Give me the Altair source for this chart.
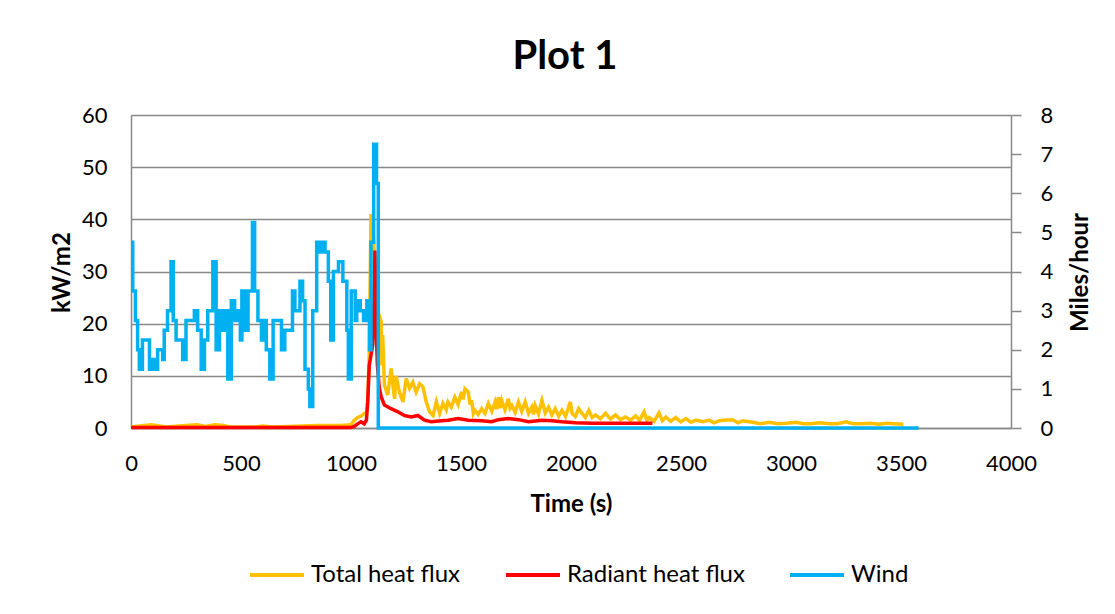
import altair as alt
import pandas as pd

# ---- data ----
series_names = ["Total heat flux", "Radiant heat flux", "Wind"]
series_colors = ["#FFC000", "#FF0000", "#00B0F0"]

total_t = [0, 60, 90, 130, 160, 250, 300, 340, 380, 420, 450, 560, 600, 640, 720, 780, 850, 950,
           1000, 1015, 1030, 1046, 1061, 1070, 1076, 1083, 1091, 1100, 1110, 1125, 1137, 1141, 1144,
           1152, 1167, 1182, 1198, 1205, 1220, 1236, 1251, 1266, 1281, 1296, 1312, 1327, 1342, 1357,
           1373, 1388, 1403, 1418, 1433, 1441, 1456, 1472, 1487, 1502, 1510, 1518, 1533, 1541, 1548,
           1556, 1563, 1578, 1594, 1609, 1624, 1640, 1655, 1662, 1670, 1678, 1685, 1700, 1715, 1723,
           1731, 1746, 1761, 1776, 1792, 1807, 1822, 1830, 1837, 1852, 1868, 1883, 1898, 1913, 1928,
           1944, 1959, 1975, 1997, 2005, 2020, 2035, 2050, 2065, 2081, 2096, 2111, 2134, 2157, 2180,
           2202, 2225, 2248, 2271, 2294, 2312, 2332, 2345, 2355, 2378, 2400, 2415, 2431, 2453, 2476,
           2499, 2522, 2545, 2568, 2600, 2629, 2650, 2674, 2690, 2735, 2760, 2781, 2826, 2860, 2900,
           2940, 2978, 3024, 3055, 3090, 3130, 3176, 3210, 3252, 3283, 3320, 3359, 3400, 3435, 3470,
           3511]
total_kw = [0.2, 0.5, 0.6, 0.4, 0.2, 0.5, 0.6, 0.3, 0.6, 0.5, 0.2, 0.2, 0.4, 0.2, 0.3, 0.4, 0.5, 0.5,
            0.6, 1.5, 2.0, 2.3, 2.8, 2.8, 5.0, 14.6, 41.0, 38.0, 30.0, 22.0, 20.4, 12.0, 17.8,
            8.2, 6.3, 11.4, 5.6, 10.0, 6.9, 5.0, 9.5, 7.6, 8.8, 6.9, 8.5, 7.9, 5.0, 3.1,
            2.4, 5.0, 2.8, 4.7, 3.5, 5.0, 4.0, 5.9, 4.5, 6.9, 5.5, 7.5, 6.9, 4.5, 5.3,
            2.8, 3.4, 2.6, 3.7, 2.8, 4.7, 3.2, 5.0, 3.6, 5.9, 3.8, 5.3, 3.5, 5.6, 3.8,
            4.3, 3.0, 5.0, 3.2, 5.0, 2.8, 4.0, 2.6, 4.3, 2.7, 5.3, 2.9, 4.0, 2.5, 3.7,
            2.3, 3.4, 2.2, 5.0, 2.8, 2.2, 3.7, 2.8, 2.0, 3.4, 2.0, 2.5, 1.8, 2.8, 1.7,
            2.5, 1.6, 2.1, 1.5, 2.3, 1.5, 3.1, 1.5, 2.0, 1.3, 2.9, 1.4, 2.1, 1.3, 2.0,
            1.2, 1.8, 1.1, 1.5, 1.2, 1.5, 1.0, 1.4, 1.5, 1.6, 1.0, 1.4, 1.1, 0.8, 1.1,
            0.8, 0.9, 1.1, 0.8, 0.8, 1.0, 0.8, 0.8, 1.2, 0.8, 0.8, 0.9, 0.7, 0.9, 0.8,
            0.7]

radiant_t = [0, 1000, 1015, 1030, 1045, 1060, 1070, 1076, 1083, 1091, 1099, 1105, 1109, 1114, 1120,
             1129, 1137, 1152, 1182, 1213, 1243, 1274, 1304, 1334, 1365, 1411, 1441, 1487, 1533,
             1594, 1639, 1670, 1715, 1761, 1807, 1868, 1913, 1959, 2020, 2096, 2172, 2248, 2324, 2370]
radiant_kw = [0.1, 0.1, 0.3, 0.8, 1.2, 0.8, 1.5, 5.0, 12.0, 14.0, 16.0, 25.0, 34.0, 20.0, 12.0,
              7.6, 6.0, 4.4, 3.7, 3.1, 2.4, 2.1, 2.4, 1.5, 1.2, 1.4, 1.5, 1.8, 1.5,
              1.4, 1.2, 1.6, 1.8, 1.6, 1.2, 1.5, 1.4, 1.2, 1.0, 0.9, 0.9, 0.9, 0.9, 0.9]

wind_t = [0, 8, 20, 30, 38, 52, 76, 84, 98, 112, 121, 144, 151, 166, 182, 192, 205, 235, 250, 273,
          288, 303, 319, 334, 349, 372, 387, 402, 418, 430, 440, 456, 471, 486, 497, 504, 517, 532,
          552, 562, 577, 593, 608, 615, 631, 646, 684, 699, 734, 745, 768, 780, 791, 806, 813, 826,
          844, 859, 871, 882, 897, 908, 920, 943, 963, 981, 988, 1001, 1019, 1026, 1042, 1057, 1072,
          1084, 1091, 1103, 1116, 1124, 3580]
wind_mph = [4.75, 3.5, 2.75, 2.0, 1.5, 2.25, 2.25, 1.5, 1.75, 1.5, 2.0, 1.75, 2.5, 3.0, 4.25, 2.75,
            2.25, 1.75, 2.75, 2.75, 3.0, 2.5, 1.5, 2.25, 3.0, 4.25, 2.0, 3.0, 2.5, 3.0, 1.25, 3.25,
            2.75, 3.0, 2.25, 3.5, 2.5, 3.5, 5.25, 3.5, 2.75, 2.25, 2.75, 2.0, 1.25, 2.75, 2.0, 2.5,
            3.5, 3.0, 3.75, 3.25, 1.5, 1.0, 0.55, 3.0, 4.75, 4.5, 4.75, 4.5, 3.75, 2.25, 4.0, 4.25,
            3.75, 2.5, 1.25, 3.5, 2.75, 3.25, 3.0, 2.75, 3.25, 2.0, 4.75, 7.25, 6.25, 0.0, 0.0]

x_ticks = list(range(0, 4001, 500))
left_ticks = list(range(0, 61, 10))
right_ticks = list(range(0, 9))

# ---- tables ----
df_total = pd.DataFrame({"t": total_t, "v": total_kw, "series": series_names[0]})
df_rad = pd.DataFrame({"t": radiant_t, "v": radiant_kw, "series": series_names[1]})
df_wind = pd.DataFrame({"t": wind_t, "v": wind_mph, "series": series_names[2]})

FONT = "Lato"
GRAY = "#888888"
LW = 1.5
TICK_FS = 22
TITLE_FS = 24

color = alt.Color(
    "series:N",
    scale=alt.Scale(domain=series_names, range=series_colors),
    legend=alt.Legend(
        orient="none", legendX=117, legendY=431, direction="horizontal", title=None,
        symbolType="stroke", symbolSize=2916, symbolStrokeWidth=4,
        labelFont=FONT, labelFontSize=24, labelColor="#000000", labelOffset=5,
        labelLimit=400, columnPadding=37, padding=0,
    ),
)

x_enc = alt.X(
    "t:Q",
    scale=alt.Scale(domain=[0, 4000], nice=False),
    axis=alt.Axis(
        title="Time (s)", values=x_ticks, format="d", grid=False, ticks=False, labelPadding=25,
        labelFlush=False, labelOverlap=False,
        labelFont=FONT, labelFontSize=TICK_FS, labelColor="#000000",
        titleFont=FONT, titleFontSize=TITLE_FS, titleFontWeight="bold", titleColor="#000000",
        titleY=83, titleBaseline="alphabetic", titleAlign="center",
        domainColor=GRAY, domainWidth=LW,
    ),
)

y_left = alt.Y(
    "v:Q",
    scale=alt.Scale(domain=[0, 60], nice=False),
    axis=alt.Axis(
        title="kW/m2", orient="left", values=left_ticks, format="d", grid=True, ticks=False,
        labelFlush=False, labelOverlap=False,
        gridColor=GRAY, gridWidth=LW, domainColor=GRAY, domainWidth=LW,
        labelFont=FONT, labelFontSize=TICK_FS, labelColor="#000000", labelPadding=24,
        titleFont=FONT, titleFontSize=TITLE_FS, titleFontWeight="bold", titleColor="#000000",
        titleAngle=270, titleX=-62, titleY=157, titleBaseline="alphabetic", titleAlign="center",
    ),
)

y_right = alt.Y(
    "v:Q",
    scale=alt.Scale(domain=[0, 8], nice=False),
    axis=alt.Axis(
        title="Miles/hour", orient="right", values=right_ticks, format="d", grid=False,
        ticks=True, tickSize=10, tickColor=GRAY, tickWidth=LW,
        labelFlush=False, labelOverlap=False,
        domainColor=GRAY, domainWidth=LW,
        labelFont=FONT, labelFontSize=TICK_FS, labelColor="#000000",
        labelPadding=19, labelAlign="left",
        titleFont=FONT, titleFontSize=TITLE_FS, titleFontWeight="bold", titleColor="#000000",
        titleAngle=270, titleX=76, titleY=157, titleBaseline="alphabetic", titleAlign="center",
    ),
)

total_line = alt.Chart(df_total).mark_line(strokeWidth=3.5).encode(x=x_enc, y=y_left, color=color)
rad_line = alt.Chart(df_rad).mark_line(strokeWidth=3.5).encode(x=x_enc, y=y_left, color=color)
wind_line = alt.Chart(df_wind).mark_line(strokeWidth=3.5, interpolate="step-after").encode(
    x=x_enc, y=y_right, color=color
)

heat = alt.layer(total_line, rad_line)

chart = (
    alt.layer(heat, wind_line)
    .resolve_scale(y="independent")
    .properties(
        width=880,
        height=313,
        padding={"left": 123, "top": 107, "right": 96, "bottom": 178},
        autosize=alt.AutoSizeParams(type="none"),
        background="#ffffff",
        title=alt.TitleParams(
            "Plot 1", font=FONT, fontSize=40, fontWeight="bold", color="#000000",
            anchor="middle", frame="group", baseline="alphabetic", offset=0, dx=-6, dy=5,
        ),
    )
    .configure_view(stroke=None)
)

chart.save("out.html", embed_options={"renderer": "svg", "actions": False})
